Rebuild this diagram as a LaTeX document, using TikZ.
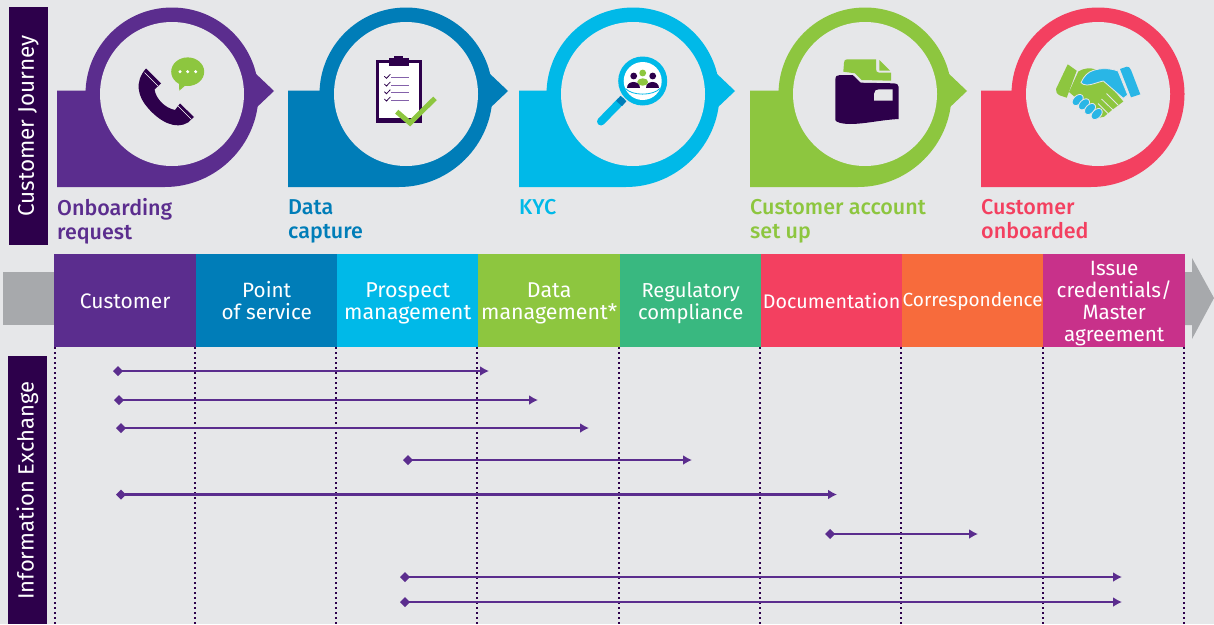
\documentclass[tikz,border=0pt]{standalone}
\usepackage{fontspec}
\setmainfont{Fira Sans}
\newfontfamily\medfont{Fira Sans Medium}
\usetikzlibrary{arrows.meta}
\definecolor{cbg}{HTML}{E6E7E9}
\definecolor{cpurple}{HTML}{5B2D8E}
\definecolor{cblue}{HTML}{007DB8}
\definecolor{ccyan}{HTML}{00B9E8}
\definecolor{cgreen}{HTML}{8DC63F}
\definecolor{cred}{HTML}{F34060}
\definecolor{cteal}{HTML}{39B880}
\definecolor{corange}{HTML}{F76B3C}
\definecolor{cmag}{HTML}{C8318A}
\definecolor{cdark}{HTML}{2D004B}
\definecolor{cgray}{HTML}{A7A9AC}
\definecolor{clight}{HTML}{29B6E6}
\newcommand{\bubbleshape}[3]{%
  \fill[#3] (#1,90.5) -- (#2-86.5,90.5) -- (#2-86.5,94) arc[start angle=180,end angle=0,radius=86.5pt]
    .. controls (#2+86.5,145) and (#2+44,187) .. (#2-7,187) -- (#1,187) -- cycle;
}
\newcommand{\bubbletip}[2]{%
  \fill[#2] (#1+82,72) -- (#1+102,91) -- (#1+83,109) -- cycle;
}
\newcommand{\bubblehole}[1]{\fill[cbg] (#1,94) circle[radius=72pt];}
\newcommand{\capstrut}{\rule{0pt}{16pt}}
\tikzset{
  x=1pt,y=-1pt,
  cellbox/.style={minimum width=142pt,minimum height=93pt,inner sep=0pt,anchor=north west},
  celltext/.style={text=white,align=center,inner sep=0pt},
  sidebar/.style={fill=cdark,draw=none,inner sep=0pt,anchor=north west},
  sidetext/.style={rotate=90,text=white,inner sep=0pt},
  steplabel/.style={anchor=north west,inner sep=0pt,align=left,font=\medfont\fontsize{21.5}{24}\selectfont},
  flow/.style={draw=cpurple,line width=2.1pt,{Diamond[length=10pt,width=10pt]}-{Latex[length=9pt,width=10pt]}},
  guide/.style={draw=cdark,line width=1.5pt,dash pattern=on 2pt off 3pt},
}
\begin{document}
\begin{tikzpicture}
\useasboundingbox (0,0) rectangle (1214,624);
\fill[cbg] (0,0) rectangle (1214,624);
% side bars
\node[sidebar,minimum width=39pt,minimum height=238pt] (cjbar) at (9,7) {};
\node[sidetext,font=\fontsize{22.5}{24}\selectfont] (cjtext) at (28.5,126) {Customer Journey};
\node[sidebar,minimum width=39pt,minimum height=268pt] (iebar) at (8,356) {};
\node[sidetext,font=\fontsize{22}{24}\selectfont] (ietext) at (27.5,490.5) {Information Exchange};
% bubbles
\bubbletip{172}{cpurple}\bubbleshape{57}{172}{cpurple}\bubblehole{172}
\bubbletip{406}{cblue}\bubbleshape{288}{406}{cblue}\bubblehole{406}
\bubbletip{633}{ccyan}\bubbleshape{519}{633}{ccyan}\bubblehole{633}
\bubbletip{865}{cgreen}\bubbleshape{750}{865}{cgreen}\bubblehole{865}
\bubbleshape{981}{1098}{cred}\bubblehole{1098}
% labels
\node[steplabel,text=cpurple] (l1) at (57,198.5) {\capstrut Onboarding\\request};
\node[steplabel,text=cblue] (l2) at (288,198.5) {\capstrut Data\\capture};
\node[steplabel,text=ccyan] (l3) at (519,198.5) {\capstrut KYC};
\node[steplabel,text=cgreen] (l4) at (750,198.5) {\capstrut Customer account\\set up};
\node[steplabel,text=cred] (l5) at (981,198.5) {\capstrut Customer\\onboarded};
% phone icon
\fill[cdark] (146,68.5) -- (161,83.5) -- (154.5,89.5)
  .. controls (156,99) and (165,108) .. (175,110) -- (180,103.5) -- (194,117) -- (188,122.5)
  .. controls (176,130) and (160,122) .. (148,108)
  .. controls (138,97) and (134,82) .. (146,68.5) -- cycle;
\draw[white,line width=.6pt] (144.5,72.5) -- (158,86);
\draw[white,line width=.6pt] (178,106) -- (191.5,119.5);
\fill[cgreen] (187.7,71.7) ellipse[x radius=16.5pt,y radius=14.3pt];
\fill[cgreen] (179,82) -- (179.3,90.7) -- (187,84) -- cycle;
\foreach \xx in {180,187.7,195.7} \fill[white] (\xx,71.7) circle[radius=1.7pt];
% clipboard icon
\fill[cdark] (376,60) rectangle (422,122.7);
\fill[white] (379,63.3) rectangle (418.7,118.3);
\fill[cdark] (389,58.3) rectangle (409,66);
\fill[cdark] (394,56) rectangle (403.3,58.5);
\foreach \yy in {77.3,85,92.7,100} {
  \draw[cpurple!75,line width=.9pt] (391,\yy) -- (409,\yy);
  \draw[cdark,line width=.8pt] (384.3,\yy-1) -- (386.5,\yy+1) -- (390.3,\yy-3);
}
\draw[cgreen,line width=5pt] (396.7,111.7) -- (410,123) -- (435,98.3);
% magnifier icon
\draw[ccyan,line width=8pt,line cap=round] (621,101) -- (601,121.5);
\draw[cblue,line width=8pt] (623.5,98.5) -- (619,103.5);
\fill[ccyan] (642.7,81) circle[radius=24.5pt];
\fill[white] (642.7,81) circle[radius=19pt];
\fill[cgreen] (642.7,73) circle[radius=3.4pt];
\fill[cgreen] (642.7,82) ellipse[x radius=5.5pt,y radius=3.7pt];
\fill[cdark] (633.7,76) circle[radius=3.4pt];
\fill[cdark] (652.7,76) circle[radius=3.4pt];
\fill[cdark] (627,87.5) .. controls (627,80) and (640,80) .. (640,87.5) -- cycle;
\fill[cdark] (646,87.5) .. controls (646,80) and (659,80) .. (659,87.5) -- cycle;
\draw[ccyan,line width=.8pt] (625.5,88.5) .. controls (632,96) and (653,96) .. (660,88.5);
% folder icon
\fill[cgreen] (843.3,71.7) -- (844,63) .. controls (844,60.5) and (845,59.3) .. (847,59.3) -- (876,59.3)
  -- (876,69) .. controls (876,71) and (877,72.7) .. (879,72.7) -- (891,72.7) -- (891,80.7) -- (861.7,80)
  -- (855,73.3) -- cycle;
\fill[cgreen] (879.3,60) -- (890,70.7) -- (879.3,70.7) -- cycle;
\fill[cdark] (835.3,80) .. controls (835.3,76) and (837,75) .. (840,75) -- (852.7,75) -- (860.7,82.7)
  -- (893,83.3) .. controls (897,83.5) and (898.7,84.5) .. (898.7,87) -- (898.7,119)
  .. controls (880,120) and (865,124) .. (850,124) .. controls (842,124) and (835.3,122) .. (835.3,120) -- cycle;
\fill[cbg] (874,94) .. controls (874,91) and (876,89.3) .. (879,89.3) -- (892.7,89.3) -- (892.7,100.7) -- (874,100.7) -- cycle;
% handshake icon
\fill[cgreen] (1067.7,64.3) -- (1076.7,70.7) -- (1066.7,97.7) -- (1060,95.5) .. controls (1057,94) and (1055.5,92) .. (1056,89) -- cycle;
\fill[cgreen] (1078.3,71.5) .. controls (1084,68) and (1090,67.5) .. (1096,69.5) -- (1105,80) -- (1123.3,101.5) -- (1112,110) -- (1104,116.7)
  -- (1098,118) -- (1076,98) -- (1069,92) -- cycle;
\fill[clight] (1126.7,66.7) -- (1120,69) -- (1131,97.3) -- (1140.3,94.3) -- (1131,70) .. controls (1130,67.5) and (1128.5,66.5) .. (1126.7,66.7) -- cycle;
\fill[clight,draw=cbg,line width=.8pt] (1081,82.5) .. controls (1084,76) and (1088,72) .. (1093,70.5) .. controls (1100,68) and (1110,68) .. (1118,71)
  -- (1127.7,95) -- (1123.3,98.3) -- (1103.3,81) .. controls (1098,82) and (1092,85) .. (1087,85) .. controls (1084,85) and (1082,84) .. (1081,82.5) -- cycle;
\foreach \xx/\yy in {1077.7/100,1084/104.3,1090/109,1096.7/114}
  \fill[clight,draw=cbg,line width=.8pt] (\xx,\yy) ellipse[x radius=6.5pt,y radius=4.3pt,rotate=45];
\draw[cbg,line width=.8pt] (1106.5,93.5) -- (1118,105);
\draw[cbg,line width=.8pt] (1101.5,99) -- (1113,110);
\draw[cbg,line width=.8pt] (1098,103.5) -- (1108,113.5);
% band arrow
\fill[cgray] (3,272) rectangle (54,325);
\fill[cgray] (1185,272) -- (1192,272) -- (1192,258) -- (1214,298) -- (1192,339) -- (1192,325) -- (1185,325) -- cycle;
% band cells
\node[cellbox,fill=cpurple] (c1) at (54,254) {};
\node[cellbox,fill=cblue,minimum width=141pt] (c2) at (196,254) {};
\node[cellbox,fill=ccyan,minimum width=141pt] (c3) at (337,254) {};
\node[cellbox,fill=cgreen] (c4) at (478,254) {};
\node[cellbox,fill=cteal,minimum width=141pt] (c5) at (620,254) {};
\node[cellbox,fill=cred,minimum width=141pt] (c6) at (761,254) {};
\node[cellbox,fill=corange,minimum width=141pt] (c7) at (902,254) {};
\node[cellbox,fill=cmag] (c8) at (1043,254) {};
\node[celltext,font=\fontsize{21}{22}\selectfont,yshift=-.5pt] (t1) at (c1.center) {Customer};
\node[celltext,font=\fontsize{20.7}{22}\selectfont,yshift=.5pt] (t2) at (c2.center) {Point\\of service};
\node[celltext,font=\fontsize{21.5}{22}\selectfont,yshift=-2.5pt] (t3) at (c3.center) {Prospect\\management};
\node[celltext,font=\fontsize{21.4}{22}\selectfont,yshift=-2.5pt] (t4) at (c4.center) {Data\\management*};
\node[celltext,font=\fontsize{20.2}{22}\selectfont,yshift=-2.5pt] (t5) at (c5.center) {Regulatory\\compliance};
\node[celltext,font=\fontsize{19.7}{22}\selectfont,yshift=-.5pt] (t6) at (c6.center) {Documentation};
\node[celltext,font=\fontsize{19}{22}\selectfont,yshift=-.5pt] (t7) at (c7.center) {Correspondence};
\node[celltext,font=\fontsize{20.7}{21.8}\selectfont,yshift=-2.8pt] (t8) at (c8.center) {Issue\\credentials/\\Master\\agreement};
% guides
\foreach \n/\xx in {1/55,2/195,3/336,4/477,5/619,6/760,7/901,8/1043,9/1184} {
  \coordinate (gt\n) at (\xx,347);
  \coordinate (gb\n) at (\xx,624);
  \draw[guide] (gt\n) -- (gb\n);
}
% exchanges
\foreach \n/\xa/\xb/\yy in {1/118/489/371,2/119/538/400,3/121/589/428,4/408/692/460,5/121/837/494.5,6/830/978/534,7/405/1122/577,8/405/1122/602} {
  \coordinate (fa\n) at (\xa-5,\yy);
  \coordinate (fb\n) at (\xb,\yy);
  \draw[flow] (fa\n) -- (fb\n);
}
\end{tikzpicture}
\end{document}
